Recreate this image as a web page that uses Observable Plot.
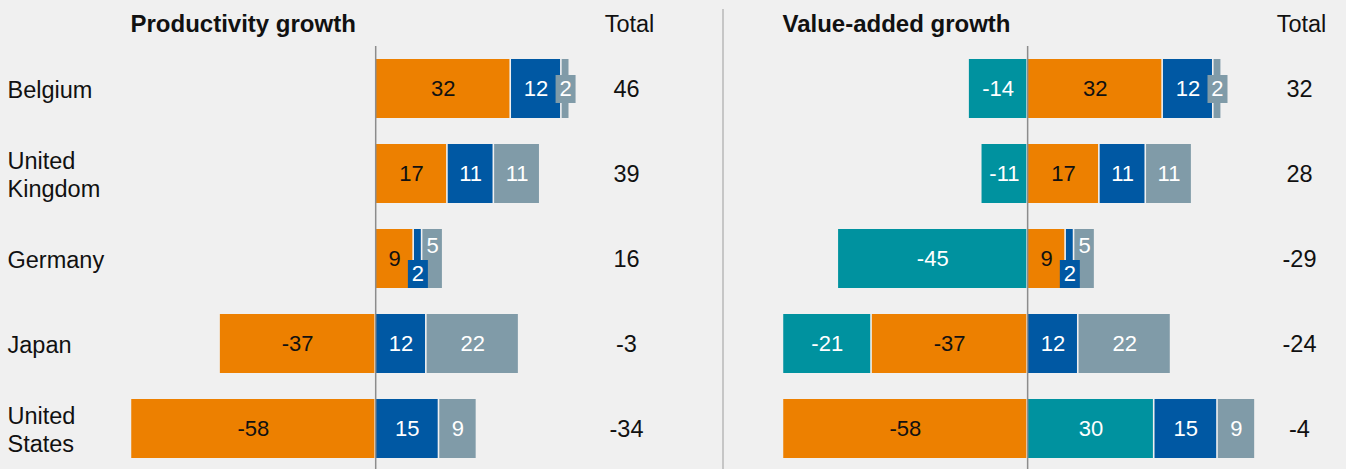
<!DOCTYPE html>
<html>
<head>
<meta charset="utf-8">
<script src="https://cdn.jsdelivr.net/npm/d3@7"></script>
<script src="https://cdn.jsdelivr.net/npm/@observablehq/plot@0.6"></script>
<style>
  html, body { margin: 0; padding: 0; background: #f0f0f0; }
  #chart { width: 1346px; height: 469px; display: flex; background: #f0f0f0; }
  #divider { width: 2px; height: 460px; margin-top: 9px; background: #c6c6c6; }
  svg { display: block; }
</style>
</head>
<body>
<div id="chart"></div>
<script>
// ---- data ----
const countries = ["Belgium", "United Kingdom", "Germany", "Japan", "United States"];
const components = ["Component 1", "Component 2", "Component 3", "Component 4"];
const componentColors = ["#ed8000", "#00929f", "#0058a3", "#809ba8"];
const darkLabelComponents = ["Component 1"];

// Productivity growth
const prodComp1 = [32, 17, 9, -37, -58];
const prodComp3 = [12, 11, 2, 12, 15];
const prodComp4 = [2, 11, 5, 22, 9];
const prodTotal = [46, 39, 16, -3, -34];

// Value-added growth
const vaComp2 = [-14, -11, -45, -21, 30];
const vaComp1 = [32, 17, 9, -37, -58];
const vaComp3 = [12, 11, 2, 12, 15];
const vaComp4 = [2, 11, 5, 22, 9];
const vaTotal = [32, 28, -29, -24, -4];

const titles = ["Productivity growth", "Value-added growth"];
const totalHeader = "Total";

// ---- helpers ----
function stackSegments(seriesByComponent) {
  const segs = [];
  countries.forEach((country, i) => {
    let pos = 0, neg = 0;
    const rowSegs = [];
    components.forEach((comp, j) => {
      const arr = seriesByComponent[j];
      if (!arr) return;
      const v = arr[i];
      let x1, x2;
      if (v >= 0) { x1 = pos; x2 = pos + v; pos = x2; }
      else { x1 = neg; x2 = neg + v; neg = x2; }
      rowSegs.push({country, component: comp, value: v, x1, x2, mid: (x1 + x2) / 2, small: Math.abs(v) <= 2, shift: "center"});
    });
    // label collision rule: a tiny segment followed on the same side by another one
    rowSegs.forEach((s, k) => {
      if (!s.small) return;
      const next = rowSegs.slice(k + 1).find(t => Math.sign(t.value) === Math.sign(s.value));
      if (next) { s.shift = "down"; next.shift = "up"; }
    });
    segs.push(...rowSegs);
  });
  return segs;
}

const boxSymbol = { draw(ctx) { ctx.rect(-10, -14, 20, 28); } };
const shiftDy = { center: 0, down: 15, up: -13 };
const valueFont = 22, textFont = 23.5, titleFont = 24;

function panel({series, totals, title, width, marginLeft, marginRight, domain, showCountries, titleDx, totalDx}) {
  const segs = stackSegments(series);
  const rows = countries.map((c, i) => ({country: c, total: totals[i]}));
  const marks = [
    Plot.barX(segs, {x1: "x1", x2: "x2", y: "country", fill: "component", insetLeft: 0.8, insetRight: 0.8}),
    Plot.dot(segs.filter(s => s.small && s.shift === "center"), {x: "mid", y: "country", fill: "component", symbol: boxSymbol}),
    Plot.dot(segs.filter(s => s.small && s.shift === "down"), {x: "mid", y: "country", fill: "component", symbol: boxSymbol, dy: shiftDy.down}),
    Plot.ruleX([0], {stroke: "#8c8c8c", strokeWidth: 1.5, insetTop: -2})
  ];
  for (const shift of ["center", "down", "up"]) {
    for (const dark of [true, false]) {
      const d = segs.filter(s => s.shift === shift && darkLabelComponents.includes(s.component) === dark);
      if (!d.length) continue;
      marks.push(Plot.text(d, {x: "mid", y: "country", text: s => String(s.value), fill: dark ? "#111" : "#fff", dy: shiftDy[shift], fontSize: valueFont}));
    }
  }
  marks.push(Plot.text(rows, {y: "country", text: r => String(r.total), frameAnchor: "right", textAnchor: "middle", dx: 1, fill: "#111", fontSize: textFont}));
  marks.push(Plot.text([totalHeader], {frameAnchor: "top-right", textAnchor: "middle", lineAnchor: "middle", dx: totalDx, dy: -24, fill: "#111", fontSize: textFont}));
  marks.push(Plot.text([title], {frameAnchor: "top-left", textAnchor: "start", lineAnchor: "middle", dx: titleDx, dy: -24, fill: "#111", fontSize: titleFont, fontWeight: "bold"}));
  if (showCountries) {
    marks.push(Plot.text(countries, {y: c => c, text: c => c, frameAnchor: "left", textAnchor: "start", dx: 7 - marginLeft, lineWidth: 5.5, lineHeight: 1.2, fill: "#111", fontSize: textFont}));
  }
  return Plot.plot({
    width, height: 469,
    marginTop: 48, marginBottom: 0, marginLeft, marginRight,
    style: {background: "transparent", fontFamily: "'Liberation Sans', Arial, sans-serif", color: "#111", overflow: "visible"},
    x: {domain, axis: null},
    y: {domain: countries, paddingInner: 0.31, paddingOuter: 0.12, axis: null},
    color: {domain: components, range: componentColors},
    marks
  });
}

const chart = document.getElementById("chart");
chart.append(panel({
  series: [prodComp1, null, prodComp3, prodComp4], totals: prodTotal, title: titles[0],
  width: 722, marginLeft: 122, marginRight: 97, domain: [-60, 59.2], showCountries: true, titleDx: 8, totalDx: 4
}));
const div = document.createElement("div"); div.id = "divider"; chart.append(div);
chart.append(panel({
  series: [vaComp1, vaComp2, vaComp3, vaComp4], totals: vaTotal, title: titles[1],
  width: 622, marginLeft: 50, marginRight: 48, domain: [-60, 64.2], showCountries: false, titleDx: 8, totalDx: 3
}));
</script>
</body>
</html>
